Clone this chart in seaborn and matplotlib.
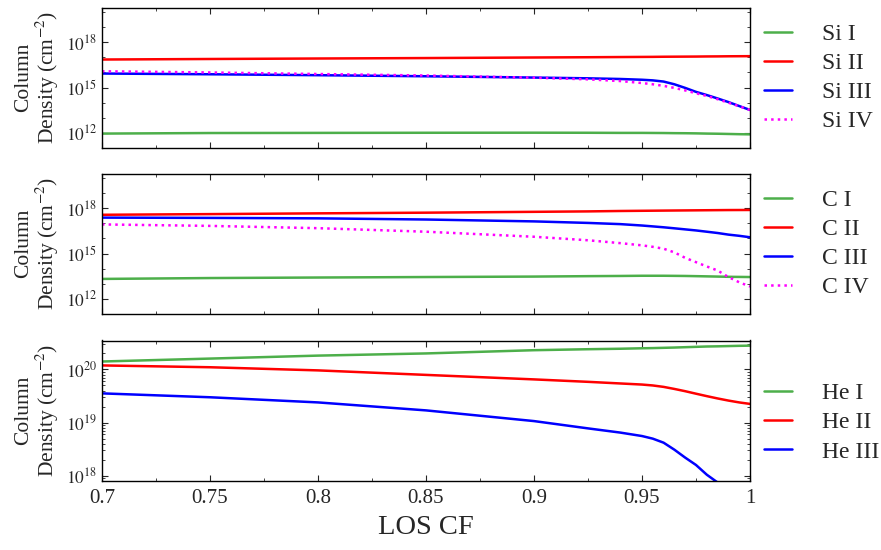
import numpy as np
import pandas as pd
import matplotlib
matplotlib.use("Agg")
import matplotlib.pyplot as plt
import seaborn as sns
from matplotlib.ticker import FixedLocator, NullFormatter

# ---------------- data ----------------
los_cf = [0.70, 0.75, 0.80, 0.85, 0.90, 0.925, 0.94, 0.95, 0.955, 0.96, 0.965,
          0.97, 0.975, 0.98, 0.985, 0.99, 0.995, 1.00]

si_i   = [9.0e11, 9.8e11, 1.0e12, 1.02e12, 1.03e12, 1.02e12, 1.0e12, 1.0e12, 9.9e11, 9.8e11, 9.6e11,
          9.5e11, 9.3e11, 9.0e11, 8.8e11, 8.5e11, 8.2e11, 8.0e11]
si_ii  = [7.2e16, 7.8e16, 8.4e16, 9.0e16, 9.8e16, 1.02e17, 1.05e17, 1.07e17, 1.08e17, 1.1e17, 1.11e17,
          1.12e17, 1.13e17, 1.15e17, 1.16e17, 1.18e17, 1.19e17, 1.2e17]
si_iii = [8.5e15, 7.6e15, 6.6e15, 5.6e15, 4.6e15, 4.1e15, 3.7e15, 3.3e15, 3.0e15, 2.5e15, 1.65e15,
          9.5e14, 5.2e14, 3.2e14, 1.9e14, 1.1e14, 6.0e13, 3.3e13]
si_iv  = [1.2e16, 1.0e16, 7.9e15, 6.3e15, 4.5e15, 3.5e15, 2.7e15, 2.0e15, 1.65e15, 1.3e15, 9.5e14,
          6.5e14, 4.2e14, 2.8e14, 1.7e14, 1.0e14, 5.8e13, 3.3e13]

c_i   = [2.1e13, 2.4e13, 2.6e13, 2.8e13, 3.0e13, 3.2e13, 3.3e13, 3.4e13, 3.4e13, 3.4e13, 3.35e13,
         3.3e13, 3.2e13, 3.1e13, 3.0e13, 2.9e13, 2.85e13, 2.8e13]
c_ii  = [3.7e17, 4.1e17, 4.6e17, 5.1e17, 5.8e17, 6.2e17, 6.6e17, 6.8e17, 6.9e17, 7.0e17, 7.1e17,
         7.2e17, 7.3e17, 7.4e17, 7.5e17, 7.6e17, 7.65e17, 7.7e17]
c_iii = [2.4e17, 2.3e17, 2.15e17, 1.8e17, 1.35e17, 1.07e17, 8.9e16, 7.2e16, 6.3e16, 5.5e16, 4.7e16,
         4.0e16, 3.4e16, 2.8e16, 2.3e16, 1.8e16, 1.5e16, 1.2e16]
c_iv  = [8.5e16, 6.8e16, 4.8e16, 2.8e16, 1.3e16, 7.6e15, 4.9e15, 3.5e15, 2.8e15, 2.1e15, 1.2e15,
         5.2e14, 2.7e14, 1.4e14, 7.6e13, 2.8e13, 1.26e13, 6.6e12]

he_i   = [1.41e20, 1.6e20, 1.82e20, 2.0e20, 2.3e20, 2.4e20, 2.45e20, 2.5e20, 2.52e20, 2.55e20, 2.58e20,
          2.62e20, 2.66e20, 2.7e20, 2.72e20, 2.75e20, 2.78e20, 2.8e20]
he_ii  = [1.19e20, 1.1e20, 9.6e19, 7.9e19, 6.5e19, 5.85e19, 5.45e19, 5.2e19, 5.0e19, 4.7e19, 4.3e19,
          3.9e19, 3.5e19, 3.15e19, 2.85e19, 2.6e19, 2.4e19, 2.25e19]
he_iii = [3.55e19, 3.0e19, 2.4e19, 1.7e19, 1.07e19, 7.8e18, 6.5e18, 5.6e18, 5.0e18, 4.2e18, 3.1e18,
          2.2e18, 1.6e18, 1.05e18, 7.5e17, 4.8e17, 3.2e17, 2.0e17]

si_labels = ["Si I", "Si II", "Si III", "Si IV"]
c_labels = ["C I", "C II", "C III", "C IV"]
he_labels = ["He I", "He II", "He III"]

xtick_values = [0.7, 0.75, 0.8, 0.85, 0.9, 0.95, 1.0]
xtick_labels = ["0.7", "0.75", "0.8", "0.85", "0.9", "0.95", "1"]

# ---------------- style ----------------
sns.set_style("ticks")
plt.rcParams["font.family"] = ["Liberation Serif", "DejaVu Serif"]
plt.rcParams["mathtext.fontset"] = "stix"
plt.rcParams["axes.linewidth"] = 1.0

GREEN = "#4daf4a"
RED = "#ff0000"
BLUE = "#0000ff"
MAGENTA = "#ff00ff"
colors4 = [GREEN, RED, BLUE, MAGENTA]
styles4 = ["-", "-", "-", ":"]
LW = 1.8

fig = plt.figure(figsize=(8.81, 5.5), dpi=100)
L, W = 102 / 881, 648 / 881
H = 140.5 / 550
ax1 = fig.add_axes([L, 1 - 148 / 550, W, H])
ax2 = fig.add_axes([L, 1 - 314 / 550, W, H])
ax3 = fig.add_axes([L, 1 - 481 / 550, W, H])


def draw(ax, series, labels, cols, styles):
    for vals, lab, col, ls in zip(series, labels, cols, styles):
        df = pd.DataFrame({"cf": los_cf, "N": vals})
        sns.lineplot(data=df, x="cf", y="N", ax=ax, color=col, linestyle=ls,
                     linewidth=LW, label=lab)


draw(ax1, [si_i, si_ii, si_iii, si_iv], si_labels, colors4, styles4)
draw(ax2, [c_i, c_ii, c_iii, c_iv], c_labels, colors4, styles4)
draw(ax3, [he_i, he_ii, he_iii], he_labels, colors4[:3], styles4[:3])

for ax in (ax1, ax2, ax3):
    ax.set_yscale("log")
    ax.set_xlim(0.7, 1.0)
    ax.set_xticks(xtick_values)
    ax.xaxis.set_minor_locator(FixedLocator([0.725, 0.775, 0.825, 0.875, 0.925, 0.975]))
    ax.tick_params(which="both", direction="in", top=True, right=True)
    ax.tick_params(which="major", length=4, width=0.8, labelsize=12.5)
    ax.tick_params(which="minor", length=2.5, width=0.6)
    ax.set_xlabel("")
    ax.set_ylabel("Column\nDensity (cm$^{-2}$)", fontsize=15.5, linespacing=1.0)
    ax.yaxis.set_label_coords(-0.064, 0.5)
    for s in ax.spines.values():
        s.set_color("black")

for ax in (ax1, ax2):
    ax.set_ylim(1e11, 2e20)
    ax.set_yticks([1e12, 1e15, 1e18])
    ax.set_yticklabels(["$10^{12}$", "$10^{15}$", "$10^{18}$"])
    ax.yaxis.set_minor_locator(FixedLocator([1e11, 1e13, 1e14, 1e16, 1e17, 1e19, 1e20]))
    ax.yaxis.set_minor_formatter(NullFormatter())
    ax.set_xticklabels([])

ax3.set_ylim(8e17, 3.5e20)
ax3.set_yticks([1e18, 1e19, 1e20])
ax3.set_yticklabels(["$10^{18}$", "$10^{19}$", "$10^{20}$"])
ax3.yaxis.set_minor_locator(FixedLocator([m * 10.0 ** e for e in (17, 18, 19, 20) for m in range(2, 10)]))
ax3.yaxis.set_minor_formatter(NullFormatter())
ax3.set_xticklabels(xtick_labels)
ax3.tick_params(axis="x", labelsize=15, pad=6)
ax3.set_xlabel("LOS CF", fontsize=20.5, labelpad=5)

leg_kw = dict(loc="center left", frameon=False, fontsize=17, handlelength=1.2,
              handletextpad=1.25, labelspacing=0.32, borderaxespad=0.2)
ax1.legend(bbox_to_anchor=(1.0, 0.5), **leg_kw)
ax2.legend(bbox_to_anchor=(1.0, 0.5), **leg_kw)
ax3.legend(bbox_to_anchor=(1.0, 0.415), **leg_kw)

fig.savefig("out.png", dpi=100)
